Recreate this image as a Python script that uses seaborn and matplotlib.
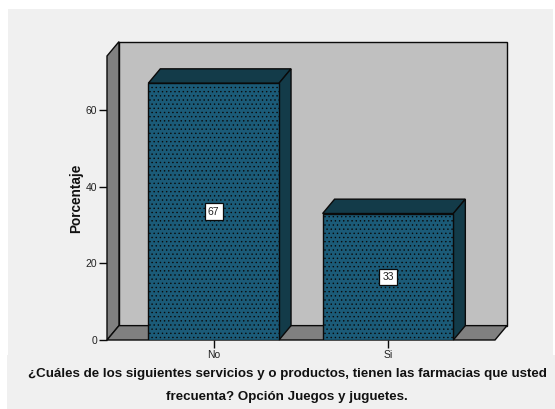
import matplotlib
matplotlib.use("Agg")
import matplotlib.pyplot as plt
from matplotlib.patches import Polygon, Rectangle
import pandas as pd
import seaborn as sns

categories = ["No", "Si"]
percentages = [67, 33]
y_ticks = [0, 20, 40, 60]
y_label = "Porcentaje"
title_lines = [
    "¿Cuáles de los siguientes servicios y o productos, tienen las farmacias que usted",
    "frecuenta? Opción Juegos y juguetes.",
]

W, H = 555, 409
FRONT_COLOR = "#1B5B78"
SIDE_COLOR = "#133B49"
WALL_COLOR = "#C0C0C0"
FLOOR_COLOR = "#808080"
PANEL_COLOR = "#F0F0F0"
EDGE = "#0A0A0A"

sns.set_theme(style="white")
plt.rcParams["font.family"] = ["Liberation Sans", "DejaVu Sans"]
plt.rcParams["hatch.linewidth"] = 0.5
plt.rcParams["hatch.color"] = "#0C2A36"

fig = plt.figure(figsize=(W / 100, H / 100), dpi=100, facecolor="white")

# Light backdrop behind the plot and behind the caption
fig.add_artist(Rectangle((8 / W, 1 - 355 / H), 545 / W, 346 / H, transform=fig.transFigure,
                         fc=PANEL_COLOR, ec="none", zorder=-5))
fig.add_artist(Rectangle((7 / W, 0), 548 / W, 54 / H, transform=fig.transFigure,
                         fc=PANEL_COLOR, ec="none", zorder=-5))

ax = fig.add_axes([107 / W, 1 - 340 / H, 388 / W, 284 / H])
ax.patch.set_alpha(0)

df = pd.DataFrame({"categoria": categories, "porcentaje": percentages})
sns.barplot(data=df, x="categoria", y="porcentaje", ax=ax, width=0.75, color=FRONT_COLOR,
            saturation=1, edgecolor=EDGE, linewidth=1.0, zorder=4)

ax.set_xlim(-0.612, 1.614)
ax.set_ylim(0, 74.1)

# Oblique offset of the 3-D box, in data units
dx, dy = 0.0688, 3.75
x0, x1 = ax.get_xlim()
ytop = ax.get_ylim()[1]


def box_face(points, color, z):
    ax.add_patch(Polygon(points, closed=True, fc=color, ec=EDGE, lw=1.0,
                         joinstyle="miter", clip_on=False, zorder=z))


# Back wall, left wall and floor of the chart box
box_face([(x0 + dx, dy), (x1 + dx, dy), (x1 + dx, ytop + dy), (x0 + dx, ytop + dy)], WALL_COLOR, 1)
box_face([(x0, 0), (x0 + dx, dy), (x0 + dx, ytop + dy), (x0, ytop)], FLOOR_COLOR, 2)
box_face([(x0, 0), (x1, 0), (x1 + dx, dy), (x0 + dx, dy)], FLOOR_COLOR, 2)

# Top and right faces of each bar, with its value label
for bar, value in zip(ax.patches[:len(percentages)], percentages):
    bar.set_hatch("....")
    left, right = bar.get_x(), bar.get_x() + bar.get_width()
    box_face([(left, value), (right, value), (right + dx, value + dy), (left + dx, value + dy)], SIDE_COLOR, 3)
    box_face([(right, 0), (right + dx, dy), (right + dx, value + dy), (right, value)], SIDE_COLOR, 3)
    ax.text((left + right) / 2, value / 2, f"{value}", ha="center", va="center", fontsize=7.5,
            color="#222222", zorder=6,
            bbox=dict(boxstyle="square,pad=0.3", fc="white", ec=EDGE, lw=0.9))

sns.despine(ax=ax, left=True, bottom=True)

ax.set_yticks(y_ticks)
ax.tick_params(axis="both", which="major", length=6, width=1, color=EDGE, left=True, bottom=True,
               labelsize=7.5, labelcolor="#222222", pad=1)
ax.set_xlabel("")
ax.set_ylabel(y_label, fontsize=9.8, fontweight="bold", color="#111111", labelpad=2)

fig.text(287 / W, 1 - 374 / H, title_lines[0], ha="center", va="center", fontsize=9.65,
         fontweight="bold", color="#111111")
fig.text(287 / W, 1 - 397 / H, title_lines[1], ha="center", va="center", fontsize=9.65,
         fontweight="bold", color="#111111")

fig.savefig("out.png", dpi=100, facecolor="white")
